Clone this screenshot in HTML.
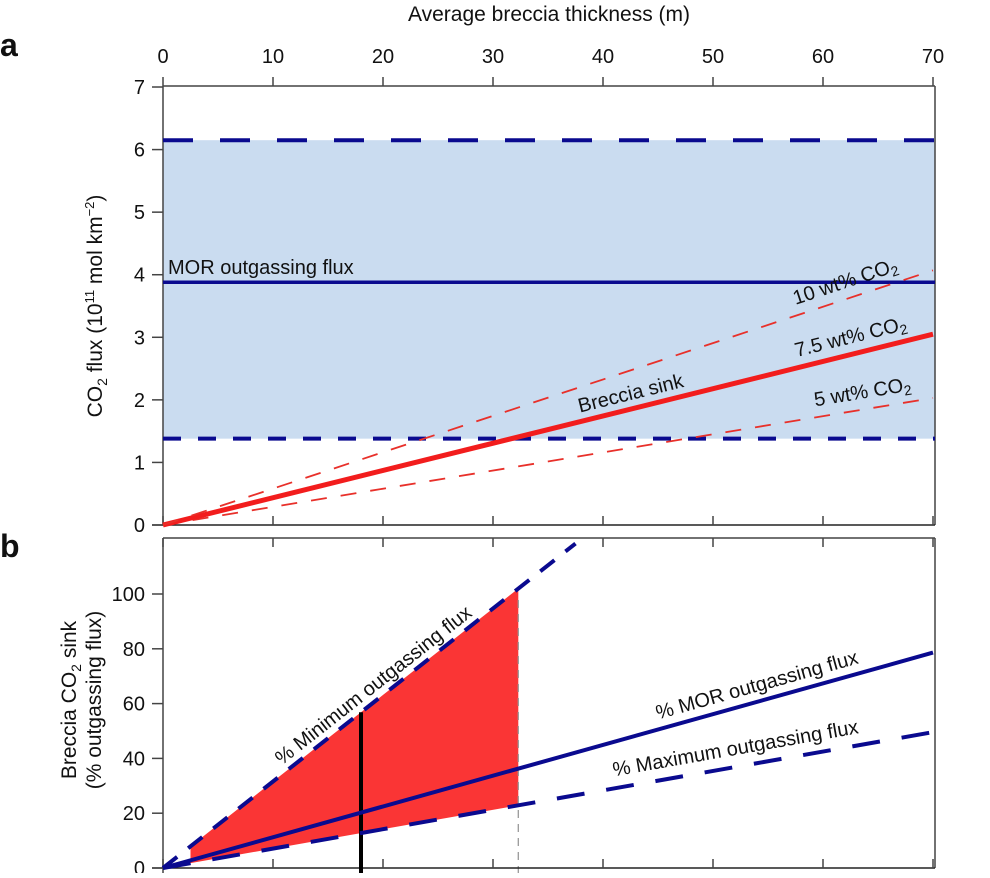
<!DOCTYPE html>
<html><head><meta charset="utf-8"><style>
body{margin:0;background:#fff}
svg text{font-family:"Liberation Sans",sans-serif;fill:#111}
</style></head><body>
<svg id="chart" width="990" height="873" viewBox="0 0 990 873"></svg>
<script>
const xTicks=[0,10,20,30,40,50,60,70];
const aYTicks=[0,1,2,3,4,5,6,7];
const bYTicks=[0,20,40,60,80,100];
const wtLabels=["5 wt% CO₂","7.5 wt% CO₂","10 wt% CO₂"];
const fluxAt70=[2.03,3.05,4.07];
const morFlux=3.88, minFlux=1.38, maxFlux=6.15;
const fillRange=[2.5,32.3];
const minLineEnd=37.5;
const markThickness=18;

const X=v=>163+v*11;
const YA=v=>525-v*62.57;
const YB=v=>868-v*2.74;
const svg=document.getElementById('chart');
const NS='http://www.w3.org/2000/svg';
function mk(tag,attrs,name,txt){const e=document.createElementNS(NS,tag);for(const k in attrs)e.setAttribute(k,attrs[k]);


if(txt!==undefined)e.textContent=txt;svg.appendChild(e);return e;}
const ln=(x1,y1,x2,y2,st,sw,name,dash)=>{const a={x1,y1,x2,y2,stroke:st,'stroke-width':sw};if(dash)a['stroke-dasharray']=dash;return mk('line',a,name);};
const tx=(x,y,s,name,o={})=>mk('text',Object.assign({x,y,'font-size':19},o),name,s);
const ang=(dx,dy)=>Math.atan2(dy,dx)*180/Math.PI;

// Panel a
mk('rect',{x:163,y:YA(maxFlux),width:772,height:YA(minFlux)-YA(maxFlux),fill:'#cadcf0'},'outgassing-range-band');
ln(163,86,935,86,'#444',1.5,'top-axis');
ln(935,86,935,525,'#444',1.5,'right-border-a');
ln(163,86,163,525,'#444',1.5,'y-axis-a');
ln(152,525,935,525,'#222',1.5,'x-axis-a');
xTicks.forEach(t=>{ln(X(t),77,X(t),86,'#444',1.5,'top-tick');tx(X(t),63,t,'top-tick-label',{'text-anchor':'middle','font-size':20});
ln(X(t),516,X(t),525,'#444',1.5,'bottom-tick-a');});
aYTicks.forEach(t=>{ln(152,YA(t),163,YA(t),'#444',1.5,'y-tick-a');tx(145,YA(t)+7,t,'y-tick-label-a',{'text-anchor':'end','font-size':20});});
tx(549,21,'Average breccia thickness (m)','x-axis-title',{'text-anchor':'middle','font-size':21});
mk('text',{x:0,y:0,'font-size':21,'text-anchor':'middle',transform:'translate(102,306) rotate(-90)'},'y-axis-title-a').innerHTML='CO<tspan font-size="14" dy="5">2</tspan><tspan dy="-5"> flux (10</tspan><tspan font-size="13" dy="-8">11</tspan><tspan dy="8"> mol km</tspan><tspan font-size="13" dy="-8">−2</tspan><tspan dy="8">)</tspan>';
tx(0,56,'a','panel-label-a',{'font-size':32,'font-weight':'bold'});
ln(163,YA(maxFlux),935,YA(maxFlux),'#0a0a8f',4,'max-outgassing-line','30,27');
ln(163,YA(minFlux),935,YA(minFlux),'#0a0a8f',4,'min-outgassing-line','18,17');
ln(163,YA(morFlux),935,YA(morFlux),'#0a0a8f',3.5,'mor-outgassing-line');
tx(168,YA(morFlux)-8,'MOR outgassing flux','mor-label',{'font-size':20});
fluxAt70.forEach((f,i)=>{const main=i===1;
ln(X(0),YA(0),X(70),YA(f),main?'#f21d1d':'#e8302a',main?5:1.8,'breccia-sink-line-'+i,main?null:'16,14');});
const lblStart=[59.3,57.6,57.5];
fluxAt70.forEach((f,i)=>{const a=ang(770,-f*62.57);const xv=lblStart[i];const x=X(xv),y=YA(f*xv/70)-11;
mk('text',{x,y,'font-size':20,transform:`rotate(${a} ${x} ${y})`},'wt-label-'+i).innerHTML=wtLabels[i].replace('₂','<tspan font-size="14" dy="4">2</tspan>');});
{const a=ang(770,-fluxAt70[1]*62.57);const xv=37.9;const x=X(xv),y=YA(fluxAt70[1]*xv/70)-9;tx(x,y,'Breccia sink','breccia-sink-label',{transform:`rotate(${a} ${x} ${y})`,'font-size':20});}

// Panel b
const pct=(x,flux)=>fluxAt70[1]*x/70/flux*100;
const f0=fillRange[0],f1=fillRange[1];
mk('polygon',{points:`${X(f0)},${YB(pct(f0,minFlux))} ${X(f1)},${YB(pct(f1,minFlux))} ${X(f1)},${YB(pct(f1,maxFlux))} ${X(f0)},${YB(pct(f0,maxFlux))}`,fill:'#fa3535'},'sink-range-fill');
ln(X(f1),600,X(f1),873,'#999',1.3,'cutoff-line','8,6');
ln(163,538,935,538,'#444',1.5,'top-axis-b');
ln(935,538,935,868,'#444',1.5,'right-border-b');
ln(163,538,163,873,'#444',1.5,'y-axis-b');
ln(152,868,935,868,'#222',1.5,'x-axis-b');
xTicks.forEach(t=>{ln(X(t),538,X(t),547,'#444',1.5,'top-tick-b');ln(X(t),859,X(t),868,'#444',1.5,'bottom-tick-b');});
bYTicks.forEach(t=>{ln(152,YB(t),163,YB(t),'#444',1.5,'y-tick-b');tx(145,YB(t)+7,t,'y-tick-label-b',{'text-anchor':'end','font-size':20});});
tx(0,557,'b','panel-label-b',{'font-size':32,'font-weight':'bold'});
mk('text',{x:0,y:0,'font-size':21,'text-anchor':'middle',transform:'translate(78,700) rotate(-90)'},'y-axis-title-b').innerHTML='<tspan x="0" dy="-2">Breccia CO<tspan font-size="14" dy="5">2</tspan><tspan dy="-5"> sink</tspan></tspan><tspan x="0" dy="25">(% outgassing flux)</tspan>';
ln(X(markThickness),YB(pct(markThickness,minFlux)),X(markThickness),873,'#000',4,'thickness-marker');
ln(X(0),YB(0),X(minLineEnd),YB(pct(minLineEnd,minFlux)),'#0a0a8f',4,'pct-min-line','18,14');
ln(X(0),YB(0),X(70),YB(pct(70,morFlux)),'#0a0a8f',4,'pct-mor-line');
ln(X(0),YB(0),X(70),YB(pct(70,maxFlux)),'#0a0a8f',4,'pct-max-line','28,22');
[[minFlux,'% Minimum outgassing flux',10.8,9],[morFlux,'% MOR outgassing flux',45,10],[maxFlux,'% Maximum outgassing flux',41,12]].forEach(([f,s,xv,off],i)=>{
const a=ang(11,-2.74*pct(1,f));const x=X(xv),y=YB(pct(xv,f))-off;tx(x,y,s,'pct-label-'+i,{transform:`rotate(${a} ${x} ${y})`,'font-size':20});});
</script>
</body></html>
